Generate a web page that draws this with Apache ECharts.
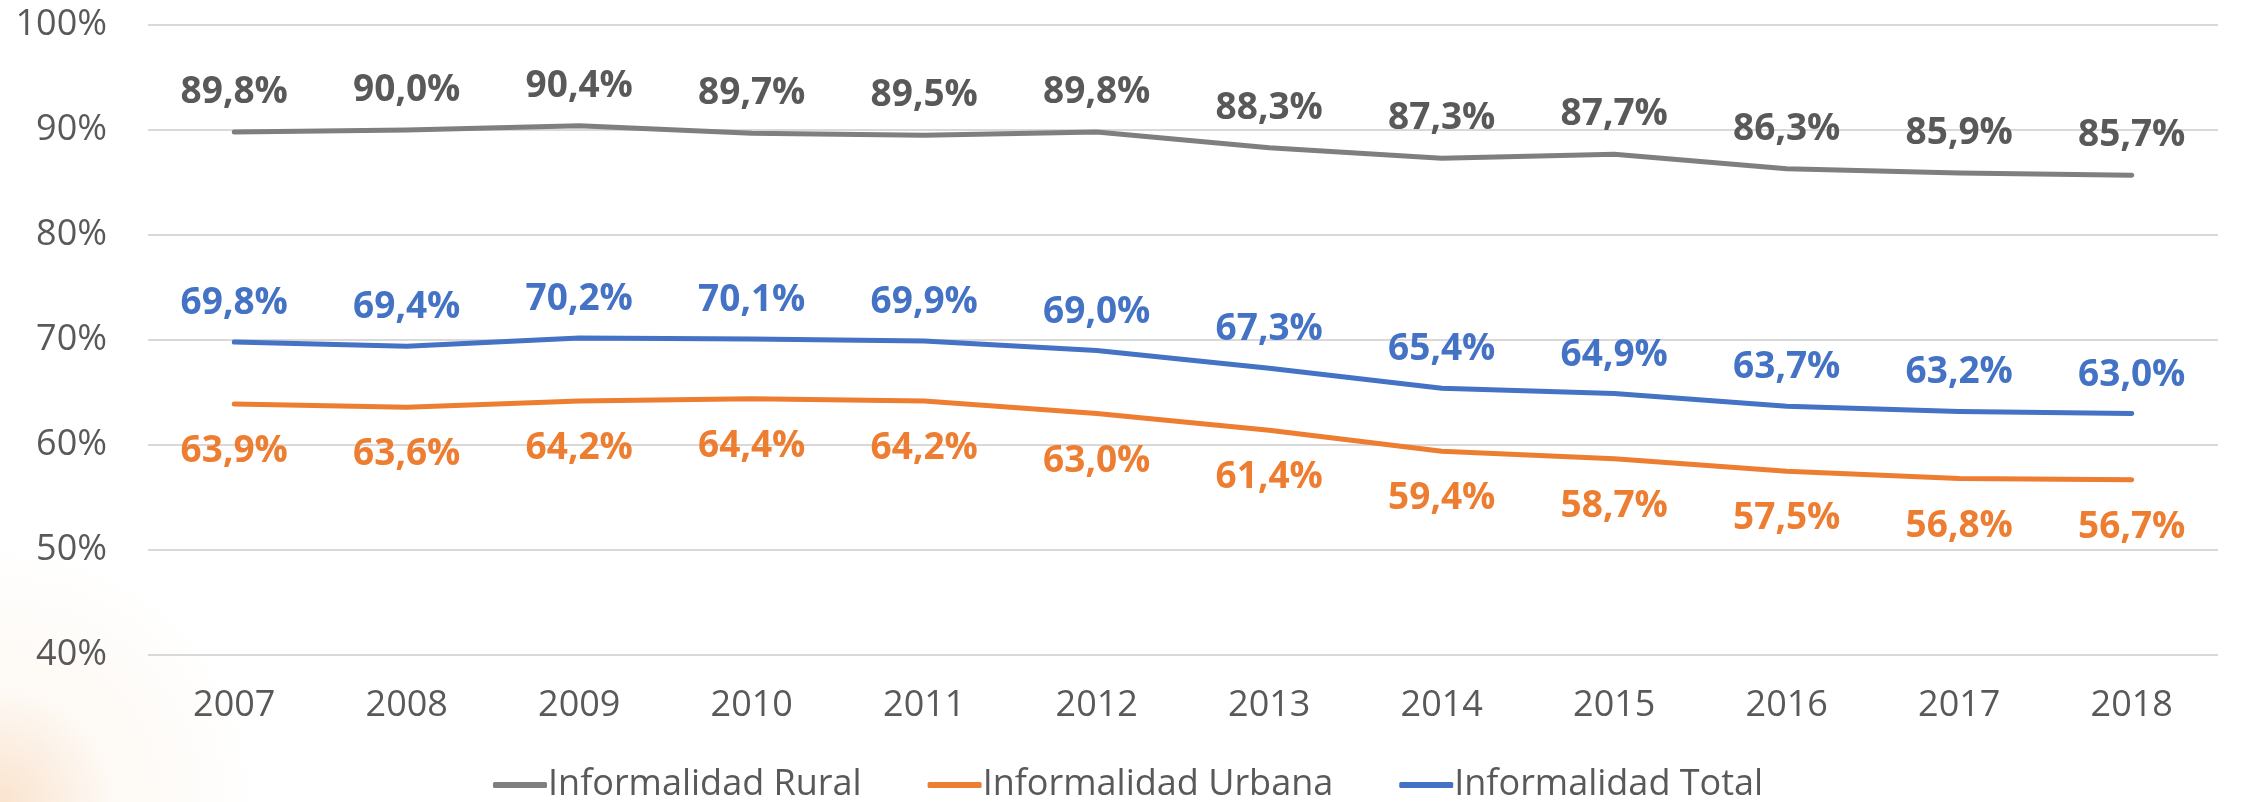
<!DOCTYPE html>
<html>
<head>
<meta charset="utf-8">
<script src="https://cdn.jsdelivr.net/npm/echarts@6/dist/echarts.min.js"></script>
<style>
html,body{margin:0;padding:0;width:2260px;height:802px;overflow:hidden;
background:#fff radial-gradient(circle at 0% 100%, rgba(240,175,115,0.35) 0px, rgba(248,225,200,0.2) 110px, rgba(255,255,255,0) 260px);}
#c{width:2260px;height:802px;}
</style>
</head>
<body>
<div id="c"></div>
<script>
const categories = ['2007','2008','2009','2010','2011','2012','2013','2014','2015','2016','2017','2018'];
const rural  = [89.8, 90.0, 90.4, 89.7, 89.5, 89.8, 88.3, 87.3, 87.7, 86.3, 85.9, 85.7];
const urbana = [63.9, 63.6, 64.2, 64.4, 64.2, 63.0, 61.4, 59.4, 58.7, 57.5, 56.8, 56.7];
const total  = [69.8, 69.4, 70.2, 70.1, 69.9, 69.0, 67.3, 65.4, 64.9, 63.7, 63.2, 63.0];
const seriesNames = ['Informalidad Rural','Informalidad Urbana','Informalidad Total'];

const FONT = '"Open Sans", "Noto Sans", sans-serif';
const fmt = p => p.value.toFixed(1).replace('.', ',') + '%';

function mk(name, data, color, labelColor, pos, dist) {
  return {
    name, type: 'line', data, symbol: 'circle', symbolSize: 0, showSymbol: true, smooth: false,
    lineStyle: { color, width: 5, cap: 'round', join: 'round' },
    itemStyle: { color },
    label: { show: true, position: pos, distance: dist, formatter: fmt,
      color: labelColor, fontSize: 37, fontWeight: 'bold', fontFamily: FONT },
    labelLayout: { hideOverlap: false },
    emphasis: { disabled: true }, animation: false
  };
}

const chart = echarts.init(document.getElementById('c'), null, { renderer: 'canvas' });
chart.setOption({
  backgroundColor: 'transparent',
  animation: false,
  grid: { left: 148, right: 42, top: 25, bottom: 147, containLabel: false },
  legend: {
    data: seriesNames, left: 488, top: 762, icon: 'roundRect',
    itemWidth: 54, itemHeight: 6, itemGap: 66,
    textStyle: { color: '#595959', fontSize: 36, fontFamily: FONT, padding: [0,0,0,-4] }
  },
  xAxis: {
    type: 'category', data: categories, boundaryGap: true,
    axisLine: { show: false }, axisTick: { show: false },
    axisLabel: { color: '#595959', fontSize: 36, fontFamily: FONT, margin: 33 }
  },
  yAxis: {
    type: 'value', min: 40, max: 100, interval: 10,
    axisLine: { show: false }, axisTick: { show: false },
    axisLabel: { color: '#595959', fontSize: 36, fontFamily: FONT, margin: 41, formatter: '{value}%' },
    splitLine: { lineStyle: { color: '#d9d9d9', width: 2 } }
  },
  series: [
    mk(seriesNames[0], rural, '#7f7f7f', '#595959', 'top', 21),
    mk(seriesNames[1], urbana, '#ed7d31', '#ed7d31', 'bottom', 29),
    mk(seriesNames[2], total, '#4472c4', '#4472c4', 'top', 20)
  ]
});
</script>
</body>
</html>
